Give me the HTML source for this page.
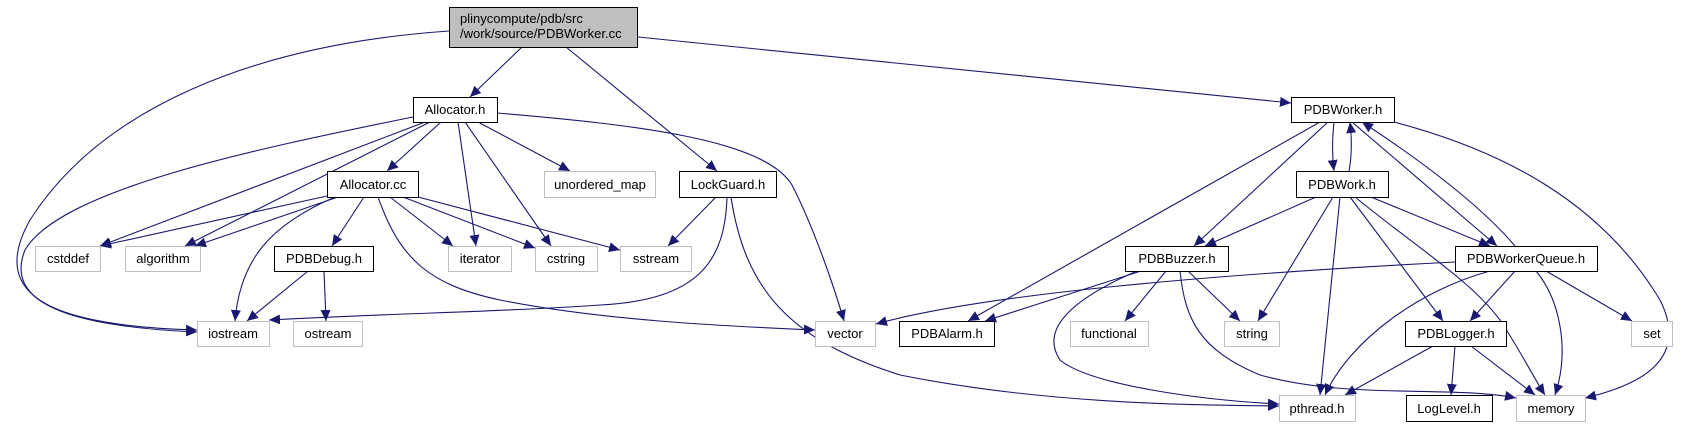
<!DOCTYPE html>
<html><head><meta charset="utf-8"><style>
html,body{margin:0;padding:0;background:#fff;width:1691px;height:427px;overflow:hidden}
svg text{font-family:"Liberation Sans",sans-serif;font-size:13px;fill:#000}
</style></head><body>
<svg width="1691" height="427" viewBox="0 0 1691 427" xmlns="http://www.w3.org/2000/svg">
<defs><marker id="a" markerUnits="userSpaceOnUse" markerWidth="12" markerHeight="10" refX="11" refY="5" orient="auto"><path d="M0,0 L11,5 L0,10 Z" fill="#191970"/></marker></defs>
<g fill="none" stroke="#191970" stroke-width="1.1" marker-end="url(#a)">
<path d="M449,31 C250,45 100,110 30,220 C-15,300 60,326 197,330"/>
<path d="M413,117 C250,150 60,190 25,250 C5,300 60,326 197,332"/>
<path d="M522,47 L470,97"/>
<path d="M566,47 L717,171"/>
<path d="M638,37 L1291,103"/>
<path d="M425,122 L100,246"/>
<path d="M430,122 L185,246"/>
<path d="M441,122 L387,171"/>
<path d="M458,122 L476,246"/>
<path d="M465,122 L551,246"/>
<path d="M478,122 L570,171"/>
<path d="M497,113 C640,125 765,140 792,185 C815,230 835,290 844,321"/>
<path d="M327,196 L100,246"/>
<path d="M338,197 L195,246"/>
<path d="M335,197 C270,225 240,260 235,321"/>
<path d="M364,197 L332,246"/>
<path d="M390,197 L453,246"/>
<path d="M403,197 L535,248"/>
<path d="M418,197 L620,250"/>
<path d="M378,197 C400,260 430,285 500,300 C600,320 720,326 815,330"/>
<path d="M308,271 L247,321"/>
<path d="M324,271 L326,321"/>
<path d="M716,197 L668,246"/>
<path d="M727,197 C725,260 700,300 600,305 C500,312 400,313 269,320"/>
<path d="M731,197 C745,290 790,340 900,375 C1050,405 1200,405 1279,406"/>
<path d="M1320,122 L968,321"/>
<path d="M1328,122 L1194,246"/>
<path d="M1334,122 C1332,140 1332,155 1334,171"/>
<path d="M1349,171 C1352,155 1352,140 1350,122"/>
<path d="M1352,122 L1497,246"/>
<path d="M1515,246 C1480,205 1420,160 1362,122"/>
<path d="M1394,122 C1500,150 1600,200 1660,300 C1690,360 1640,385 1585,398"/>
<path d="M1316,197 L1205,246"/>
<path d="M1333,197 L1258,321"/>
<path d="M1340,197 L1320,395"/>
<path d="M1350,197 L1443,321"/>
<path d="M1355,197 C1420,250 1470,280 1500,320 C1520,350 1535,380 1545,395"/>
<path d="M1371,197 L1490,246"/>
<path d="M1455,262 C1200,275 980,295 876,324"/>
<path d="M1490,271 C1420,290 1350,340 1325,395"/>
<path d="M1515,271 L1470,321"/>
<path d="M1536,271 C1560,300 1570,350 1555,395"/>
<path d="M1546,271 L1632,321"/>
<path d="M1141,271 L985,321"/>
<path d="M1166,271 L1125,321"/>
<path d="M1188,271 L1240,321"/>
<path d="M1137,271 C1070,300 1040,330 1060,360 C1090,385 1200,400 1279,404"/>
<path d="M1180,271 C1185,320 1200,350 1260,375 C1350,400 1450,385 1516,398"/>
<path d="M1433,346 L1345,395"/>
<path d="M1455,346 L1451,395"/>
<path d="M1471,346 L1535,395"/>
</g>
<g stroke-width="1">
<rect x="449.5" y="7.5" width="188" height="40" fill="#bfbfbf" stroke="#000"/>
<g fill="#fff" stroke="#000">
<rect x="413.5" y="97.5" width="84" height="25"/>
<rect x="327.5" y="171.5" width="91" height="26"/>
<rect x="679.5" y="171.5" width="97" height="26"/>
<rect x="274.5" y="246.5" width="99" height="25"/>
<rect x="1291.5" y="97.5" width="103" height="25"/>
<rect x="1296.5" y="171.5" width="92" height="26"/>
<rect x="1125.5" y="246.5" width="103" height="25"/>
<rect x="1455.5" y="246.5" width="142" height="25"/>
<rect x="899.5" y="321.5" width="95" height="25"/>
<rect x="1405.5" y="321.5" width="101" height="25"/>
<rect x="1406.5" y="395.5" width="86" height="26"/>
</g>
<g fill="#fff" stroke="#bfbfbf">
<rect x="544.5" y="171.5" width="111" height="26"/>
<rect x="35.5" y="246.5" width="65" height="25"/>
<rect x="125.5" y="246.5" width="75" height="25"/>
<rect x="448.5" y="246.5" width="63" height="25"/>
<rect x="535.5" y="246.5" width="62" height="25"/>
<rect x="620.5" y="246.5" width="71" height="25"/>
<rect x="197.5" y="321.5" width="72" height="25"/>
<rect x="293.5" y="321.5" width="69" height="25"/>
<rect x="815.5" y="321.5" width="60" height="25"/>
<rect x="1070.5" y="321.5" width="78" height="25"/>
<rect x="1224.5" y="321.5" width="55" height="25"/>
<rect x="1631.5" y="321.5" width="41" height="25"/>
<rect x="1279.5" y="395.5" width="76" height="26"/>
<rect x="1516.5" y="395.5" width="69" height="26"/>
</g>
</g>
<text x="460" y="23">plinycompute/pdb/src</text>
<text x="460" y="38">/work/source/PDBWorker.cc</text>
<g text-anchor="middle">
<text x="455" y="114">Allocator.h</text>
<text x="373" y="189">Allocator.cc</text>
<text x="600" y="189">unordered_map</text>
<text x="728" y="189">LockGuard.h</text>
<text x="68" y="263">cstddef</text>
<text x="163" y="263">algorithm</text>
<text x="324" y="263">PDBDebug.h</text>
<text x="480" y="263">iterator</text>
<text x="566" y="263">cstring</text>
<text x="656" y="263">sstream</text>
<text x="233" y="338">iostream</text>
<text x="328" y="338">ostream</text>
<text x="845" y="338">vector</text>
<text x="947" y="338">PDBAlarm.h</text>
<text x="1109" y="338">functional</text>
<text x="1252" y="338">string</text>
<text x="1456" y="338">PDBLogger.h</text>
<text x="1652" y="338">set</text>
<text x="1343" y="114">PDBWorker.h</text>
<text x="1342" y="189">PDBWork.h</text>
<text x="1177" y="263">PDBBuzzer.h</text>
<text x="1526" y="263">PDBWorkerQueue.h</text>
<text x="1317" y="413">pthread.h</text>
<text x="1449" y="413">LogLevel.h</text>
<text x="1551" y="413">memory</text>
</g>
</svg>
</body></html>
